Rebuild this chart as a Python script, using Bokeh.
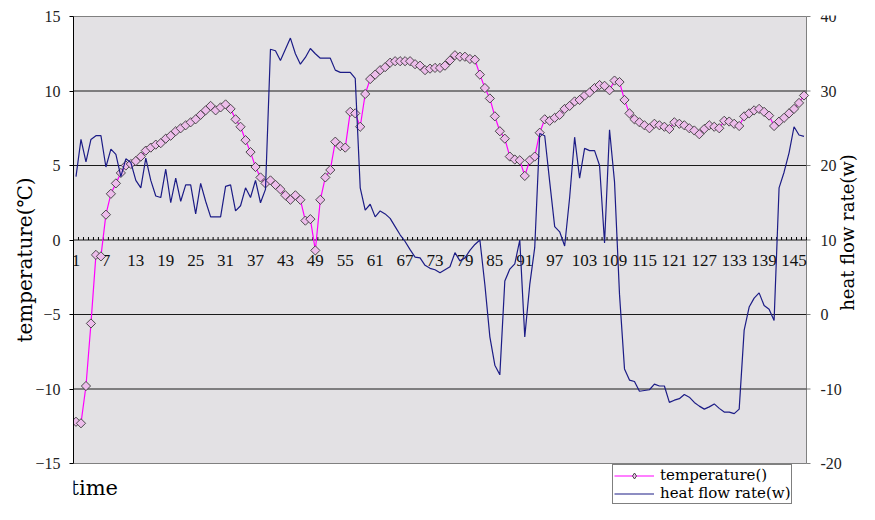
import math
from bokeh.plotting import figure
from bokeh.models import (Range1d, FixedTicker, Legend, LegendItem,
                          Label, ColumnDataSource)
from bokeh.core.properties import value
from bokeh.embed import file_html
from bokeh.resources import INLINE

# ---------------- data ----------------
time_idx = list(range(1, 148))

temperature = [
    -12.2, -12.3, -9.8, -5.6, -1.0, -1.1, 1.7, 3.1, 3.8, 4.5,
    5.0, 5.1, 5.3, 5.6, 6.0, 6.2, 6.4, 6.5, 6.8, 7.0,
    7.3, 7.5, 7.7, 7.9, 8.1, 8.4, 8.7, 9.0, 8.7, 8.9,
    9.1, 8.8, 8.1, 7.6, 6.7, 5.9, 4.9, 4.2, 3.8, 4.0,
    3.7, 3.4, 3.0, 2.7, 3.0, 2.7, 1.3, 1.4, -0.7, 2.7,
    4.2, 4.7, 6.6, 6.3, 6.2, 8.6, 8.5, 7.6, 9.8, 10.8,
    11.1, 11.4, 11.6, 11.9, 12.0, 12.0, 12.0, 12.0, 11.8, 11.7,
    11.4, 11.5, 11.55, 11.55, 11.7, 12.05, 12.4, 12.3, 12.3, 12.15,
    12.1, 11.1, 10.2, 9.5, 8.3, 7.3, 6.8, 5.6, 5.4, 5.35,
    4.3, 5.35, 5.6, 7.2, 8.1, 8.0, 8.2, 8.4, 8.8, 9.0,
    9.3, 9.4, 9.7, 9.9, 10.2, 10.4, 10.35, 10.05, 10.7, 10.6,
    9.4, 8.5, 8.1, 7.9, 7.7, 7.5, 7.8, 7.7, 7.6, 7.45,
    7.9, 7.8, 7.7, 7.5, 7.35, 7.1, 7.45, 7.7, 7.6, 7.5,
    8.0, 7.95, 7.8, 7.65, 8.3, 8.5, 8.7, 8.8, 8.6, 8.35,
    7.65, 7.95, 8.2, 8.5, 8.8, 9.2, 9.7,
]

heat_flow = [
    18.5, 23.5, 20.5, 23.5, 24.0, 24.0, 19.8, 22.2, 21.5, 18.5,
    20.9, 20.4, 18.0, 17.0, 21.0, 18.0, 15.9, 15.7, 19.5, 15.0,
    18.3, 15.2, 17.4, 17.4, 13.5, 17.6, 15.2, 13.1, 13.1, 13.1,
    17.2, 17.4, 13.9, 14.6, 17.0, 15.7, 18.0, 15.0, 16.8, 35.6,
    35.4, 34.1, 35.6, 37.1, 35.0, 33.6, 34.5, 35.7, 35.0, 34.4,
    34.4, 34.4, 32.8, 32.5, 32.5, 32.5, 31.7, 17.0, 14.0, 14.8,
    13.1, 13.9, 13.5, 12.9, 11.8, 10.7, 9.8, 8.7, 7.7, 7.6,
    6.6, 6.2, 6.0, 5.6, 6.0, 6.4, 8.3, 7.2, 7.6, 8.6,
    9.4, 10.0, 4.0, -3.0, -6.8, -8.1, 4.5, 6.1, 6.8, 10.0,
    -3.0, 4.0, 9.0, 24.3, 24.0, 17.8, 11.8, 11.1, 9.2, 15.7,
    23.8, 18.3, 22.3, 22.0, 22.0, 20.0, 9.6, 24.8, 17.8, 2.7,
    -7.3, -8.8, -9.0, -10.3, -10.2, -10.1, -9.35, -9.6, -9.6, -11.8,
    -11.5, -11.3, -10.75, -11.1, -11.8, -12.3, -12.7, -12.4, -12.0, -12.6,
    -13.1, -13.1, -13.3, -12.7, -2.1, 1.0, 2.2, 2.9, 1.2, 0.7,
    -0.8, 17.0, 19.1, 21.7, 25.2, 24.1, 23.9,
]

temp_ticks = [-15, -10, -5, 0, 5, 10, 15]
heat_ticks = [-20, -10, 0, 10, 20, 30, 40]
grid_ticks = [-10, -5, 0, 5, 10]
label_step = 6

# ---------------- layout ----------------
n = len(time_idx)
W, H = 859, 504
BORDER_L, BORDER_R, BORDER_T = 73, 0, 15
PLOT_W = 733              # width of the grey plot area in px
PX = 14.9                 # pixels per degree on the left scale
T_LO, T_HI = temp_ticks[0], temp_ticks[-1]
H_LO, H_HI = heat_ticks[0], heat_ticks[-1]
pad_top = 1.0 / PX
pad_bottom = 41.0 / PX
y0, y1 = T_LO - pad_bottom, T_HI + pad_top
k = (H_HI - H_LO) / (T_HI - T_LO)
h0, h1 = H_LO + (y0 - T_LO) * k, H_LO + (y1 - T_LO) * k
x_lo, x_hi = 0.5, n + 0.5
px_cat = PLOT_W / n
x_end = x_lo + (W - BORDER_L - BORDER_R) / px_cat

p = figure(width=W, height=H,
           x_range=Range1d(x_lo, x_end), y_range=Range1d(y0, y1),
           output_backend="svg", toolbar_location=None,
           x_axis_location=None, y_axis_location="left",
           min_border_left=BORDER_L, min_border_right=BORDER_R,
           min_border_top=BORDER_T, min_border_bottom=0)
p.extra_y_ranges = {"heat": Range1d(h0, h1)}

p.background_fill_color = "white"
p.border_fill_color = "white"
p.outline_line_color = None
p.xgrid.visible = False
p.ygrid.visible = False

# plot area
p.quad(left=[x_lo], right=[x_hi], bottom=[T_LO], top=[T_HI],
       fill_color="#E3E1E4", line_color="#808080", line_width=1)
# horizontal gridlines (0 line doubles as the category axis)
p.segment(x0=[x_lo] * len(grid_ticks), x1=[x_hi] * len(grid_ticks),
          y0=grid_ticks, y1=grid_ticks, line_color="#1a1a1a", line_width=1)

# primary (left) axis
ax = p.yaxis[0]
ax.ticker = FixedTicker(ticks=temp_ticks)
ax.bounds = (T_LO, T_HI)
ax.axis_label = "temperature(℃)"
ax.axis_label_text_font = "DejaVu Serif"
ax.axis_label_text_font_size = "20px"
ax.axis_label_text_font_style = "normal"
ax.axis_label_text_color = "black"
ax.axis_label_standoff = -5
ax.major_label_text_font = "Liberation Serif"
ax.major_label_text_font_size = "16px"
ax.major_label_text_color = "#222222"
ax.major_label_standoff = 9
ax.major_tick_out = 4
ax.major_tick_in = 0
ax.minor_tick_out = 0
ax.minor_tick_in = 0
ax.axis_line_color = "black"
ax.major_tick_line_color = "black"

# secondary (right) scale at the right edge of the plot area
tick_len = 4.0 / px_cat
p.segment(x0=[x_hi] * len(heat_ticks), x1=[x_hi + tick_len] * len(heat_ticks),
          y0=heat_ticks, y1=heat_ticks, y_range_name="heat",
          line_color="#808080", line_width=1)
r_src = ColumnDataSource(dict(x=[x_hi] * len(heat_ticks), y=heat_ticks,
                              t=[str(v) for v in heat_ticks]))
p.text(x="x", y="y", text="t", source=r_src, y_range_name="heat",
       x_offset=14, text_align="left", text_baseline="middle",
       text_font=value("Liberation Serif"), text_font_size="16px",
       text_color="#222222")
p.add_layout(Label(x=x_hi, y=11, y_range_name="heat", x_offset=41,
                   text="heat flow rate(w)", angle=math.pi / 2,
                   text_align="center", text_baseline="middle",
                   text_font="DejaVu Serif", text_font_size="18px",
                   text_color="black"))

# category tick marks along the zero line
bounds = [t - 0.5 for t in time_idx] + [time_idx[-1] + 0.5]
p.segment(x0=bounds, x1=bounds, y0=[0] * len(bounds), y1=[3.0 / PX] * len(bounds),
          line_color="black", line_width=1)

# category labels along the zero line
lab_x = time_idx[::label_step]
lab_src = ColumnDataSource(dict(x=lab_x, y=[0] * len(lab_x),
                                t=[str(v) for v in lab_x]))
p.text(x="x", y="y", text="t", source=lab_src, text_align="center",
       text_baseline="top", y_offset=15, text_font=value("Liberation Serif"),
       text_font_size="17px", text_color="#111111")

# series
src = ColumnDataSource(dict(x=time_idx, t=temperature, h=heat_flow))
t_line = p.line("x", "t", source=src, line_color="#FF00FF", line_width=1.2)
t_mark = p.scatter("x", "t", source=src, marker="square", angle=math.pi / 4,
                   size=6.5, fill_color="#EDBDEB", line_color="#3a3a3a",
                   line_width=0.9)
# legend swatch for the diamond marker (not drawn in the plot)
t_key = p.scatter("x", "t", source=src, marker="diamond", size=13,
                  fill_color="#EDBDEB", line_color="#3a3a3a", line_width=0.9,
                  visible=False)
h_line = p.line("x", "h", source=src, y_range_name="heat",
                line_color="#1C1C86", line_width=1.2)

# category axis title
p.add_layout(Label(x=x_lo, y=T_LO, x_offset=-3, y_offset=-24, text="time",
                   text_align="left", text_baseline="middle",
                   text_font="DejaVu Serif", text_font_size="21px",
                   text_color="black"))

legend = Legend(items=[LegendItem(label="temperature()", renderers=[t_line, t_key]),
                       LegendItem(label="heat flow rate(w)", renderers=[h_line])],
                location=(539, 0))
legend.border_line_color = "black"
legend.border_line_width = 1
legend.background_fill_color = "white"
legend.background_fill_alpha = 1
legend.label_text_font = "DejaVu Serif"
legend.label_text_font_size = "15px"
legend.label_text_color = "black"
legend.glyph_width = 40
legend.glyph_height = 15
legend.label_height = 15
legend.label_standoff = 6
legend.padding = 1
legend.spacing = 0
legend.margin = 0
p.add_layout(legend)

open("out.html", "w").write(file_html(p, INLINE))
